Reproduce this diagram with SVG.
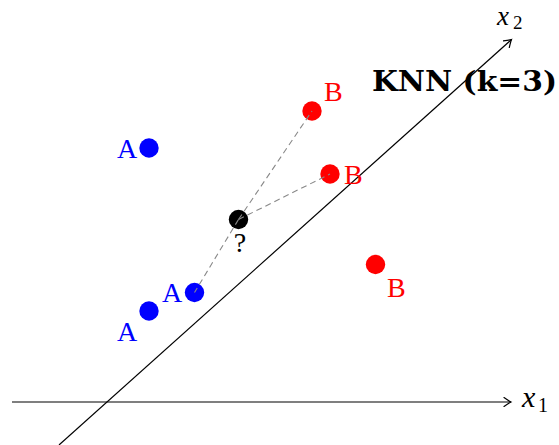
<svg xmlns="http://www.w3.org/2000/svg" width="559" height="445" viewBox="0 0 559 445">
<defs>
<marker id="arr" viewBox="-8 -5 10 10" markerWidth="10" markerHeight="10" refX="0" refY="0" orient="auto" markerUnits="userSpaceOnUse">
<path d="M-7,-4.5 Q-2,-1 0,0 Q-2,1 -7,4.5" fill="none" stroke="#000" stroke-width="1.2" stroke-linecap="round"/>
</marker>
<style>
.axis{stroke:#000;stroke-width:1.2;fill:none}
.lbl{font-family:"Liberation Serif","DejaVu Serif",serif;font-size:28px}
.math{font-family:"Liberation Serif","DejaVu Serif",serif;font-style:italic}
.sub{font-family:"Liberation Serif","DejaVu Serif",serif}
.a{fill:#0000ff}
.b{fill:#ff0000}
.dash{stroke:#888;stroke-width:1.1;stroke-dasharray:6 4;fill:none}
</style>
</defs>
<g id="axes">
<line class="axis" x1="12" y1="402" x2="511" y2="402" marker-end="url(#arr)"/>
<line class="axis" x1="59" y1="445" x2="511.5" y2="39.5" marker-end="url(#arr)"/>
<text class="math" x="522" y="407" font-size="30">x</text>
<text class="sub" x="538" y="412" font-size="20">1</text>
<text class="math" x="497" y="25" font-size="27">x</text>
<text class="sub" x="513" y="29" font-size="19">2</text>
</g>
<g id="title">
<text x="372" y="91" font-family="'DejaVu Serif','Liberation Serif',serif" font-weight="bold" font-size="28" textLength="185" lengthAdjust="spacingAndGlyphs">KNN (k=3)</text>
</g>
<g id="pA1"><circle class="a" cx="149" cy="148" r="9.7"/><text class="lbl a" x="117" y="158">A</text></g>
<g id="pB1"><circle class="b" cx="312" cy="111" r="9.7"/><text class="lbl b" x="324" y="101">B</text></g>
<g id="pB2"><circle class="b" cx="330" cy="174" r="9.7"/><text class="lbl b" x="344" y="184">B</text></g>
<g id="pQ"><circle fill="#000" cx="238.5" cy="219.5" r="9.7"/><text class="lbl" x="240" y="252" text-anchor="middle" fill="#000">?</text></g>
<g id="pA2"><circle class="a" cx="194.5" cy="292.5" r="9.7"/><text class="lbl a" x="162" y="302">A</text></g>
<g id="pA3"><circle class="a" cx="149" cy="311" r="9.7"/><text class="lbl a" x="117" y="341">A</text></g>
<g id="pB3"><circle class="b" cx="375.5" cy="264.5" r="9.7"/><text class="lbl b" x="387" y="297">B</text></g>
<g id="connectors">
<line class="dash" x1="238.5" y1="219.5" x2="312" y2="111"/>
<line class="dash" x1="238.5" y1="219.5" x2="330" y2="174"/>
<line class="dash" x1="238.5" y1="219.5" x2="194.5" y2="292.5"/>
</g>
</svg>
